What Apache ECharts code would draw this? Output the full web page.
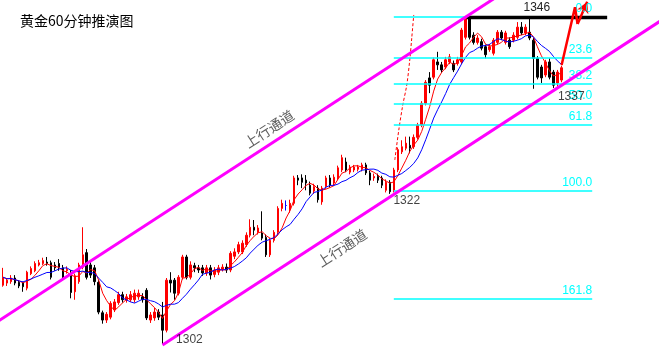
<!DOCTYPE html>
<html><head><meta charset="utf-8">
<script src="https://cdn.jsdelivr.net/npm/echarts@6/dist/echarts.min.js"></script>
<style>html,body{margin:0;padding:0;background:#fff}#c{width:659px;height:349px}</style>
</head><body><div id="c"></div>
<script>
const chartTitle = '黄金60分钟推演图';
const opens = [1309.0,1309.3,1309.5,1310.0,1309.4,1309.3,1308.6,1310.6,1311.0,1311.8,1312.0,1312.2,1312.1,1311.8,1312.0,1311.4,1311.0,1310.8,1308.1,1309.5,
1311.5,1313.5,1311.8,1311.4,1309.4,1305.2,1304.2,1304.6,1305.6,1306.6,1307.7,1307.0,1307.0,1307.0,1307.4,1307.4,1308.3,1304.2,1304.5,1305.3,
1304.9,1302.8,1309.7,1309.7,1307.9,1310.1,1312.9,1310.1,1311.7,1311.4,1311.4,1310.7,1311.4,1310.5,1310.8,1311.2,1311.5,1311.1,1313.0,1313.6,
1313.6,1314.6,1315.9,1317.0,1316.3,1316.2,1315.6,1313.2,1315.2,1316.3,1319.6,1320.0,1319.4,1320.3,1323.8,1323.8,1323.5,1322.8,1322.0,1322.4,
1320.5,1322.6,1323.8,1323.1,1323.8,1324.9,1326.0,1324.6,1324.9,1325.0,1325.0,1325.6,1324.5,1323.8,1324.0,1323.8,1322.1,1323.2,1322.1,1324.9,
1327.4,1327.9,1328.3,1328.1,1329.4,1331.1,1334.1,1337.6,1337.7,1339.8,1339.4,1339.1,1339.8,1339.6,1339.6,1339.8,1343.2,1345.9,1343.5,1342.5,
1342.6,1341.9,1341.5,1341.0,1342.5,1343.9,1342.5,1342.8,1342.8,1343.2,1344.6,1343.8,1343.9,1342.8,1340.3,1339.1,1338.0,1339.8,1338.4,1336.9,1337.3];
const closes = [1310.1,1309.7,1310.0,1309.3,1308.9,1308.8,1310.8,1311.3,1312.0,1312.1,1312.4,1312.0,1310.1,1311.4,1311.5,1310.0,1311.2,1308.0,1310.3,1311.8,
1313.2,1310.1,1310.4,1309.5,1305.3,1304.2,1305.0,1306.5,1306.7,1307.7,1307.0,1307.4,1307.7,1307.9,1307.9,1307.0,1304.5,1304.9,1305.3,1304.6,
1302.8,1309.7,1309.3,1307.9,1310.1,1312.9,1310.1,1311.8,1311.4,1311.1,1310.7,1311.4,1310.4,1311.1,1311.4,1311.5,1311.1,1313.4,1313.6,1314.6,
1314.8,1315.9,1317.0,1316.6,1316.9,1315.5,1313.2,1315.2,1316.3,1319.6,1320.3,1320.0,1320.3,1323.8,1323.5,1323.2,1323.1,1321.7,1322.6,1320.8,
1322.4,1323.8,1322.8,1323.9,1325.2,1326.6,1324.9,1325.3,1325.3,1325.3,1325.6,1324.5,1323.5,1324.0,1323.5,1322.8,1323.2,1321.9,1324.9,1327.7,
1328.1,1328.6,1327.9,1329.4,1331.1,1334.1,1337.0,1336.6,1340.1,1339.4,1338.7,1340.1,1340.5,1338.7,1340.1,1344.2,1345.9,1343.2,1342.5,1343.1,
1341.7,1340.8,1341.9,1342.8,1343.9,1343.1,1343.8,1341.9,1343.5,1344.6,1343.8,1344.6,1343.1,1340.3,1337.7,1337.6,1339.8,1337.7,1336.6,1338.4,1339.0];
const lows = [1308.8,1308.9,1309.2,1309.0,1308.6,1308.1,1308.3,1310.4,1310.8,1311.6,1311.8,1311.7,1309.8,1311.0,1311.0,1309.7,1310.6,1307.2,1307.0,1309.2,
1311.2,1309.8,1310.0,1309.0,1305.0,1303.7,1303.8,1304.3,1305.3,1306.3,1306.6,1306.6,1306.7,1306.6,1307.0,1306.6,1304.2,1303.8,1304.1,1304.2,
1300.9,1302.5,1308.0,1307.0,1307.6,1309.8,1309.8,1309.8,1310.8,1310.7,1310.3,1310.3,1309.8,1310.1,1310.4,1310.9,1310.7,1310.8,1312.6,1313.3,
1313.3,1314.3,1315.6,1315.9,1316.0,1315.2,1312.9,1312.9,1314.9,1316.0,1319.2,1319.3,1319.0,1320.0,1322.8,1322.4,1322.1,1321.4,1321.6,1320.4,
1320.1,1322.3,1322.5,1322.8,1323.5,1324.6,1324.6,1324.3,1324.6,1324.7,1324.7,1324.2,1322.8,1323.4,1323.1,1322.4,1321.8,1321.6,1321.8,1324.6,
1327.1,1327.6,1327.2,1327.8,1329.1,1330.8,1333.8,1335.5,1337.4,1338.7,1338.3,1338.8,1339.5,1338.4,1339.3,1339.5,1342.9,1342.9,1342.2,1342.2,
1341.4,1340.3,1341.2,1340.7,1342.2,1342.8,1342.2,1341.6,1342.5,1342.9,1343.5,1343.5,1342.8,1336.1,1337.4,1336.9,1337.7,1337.4,1336.2,1336.4,1337.0];
const highs = [1311.4,1310.0,1310.4,1310.4,1309.7,1309.5,1311.0,1311.6,1312.3,1312.5,1312.8,1312.9,1312.4,1312.2,1312.6,1311.8,1311.6,1311.1,1310.6,1312.1,
1317.0,1314.0,1312.2,1311.8,1309.7,1305.5,1305.3,1306.8,1307.1,1308.1,1308.1,1307.8,1308.2,1308.4,1308.4,1307.9,1308.6,1305.3,1305.9,1305.7,
1306.7,1310.0,1310.8,1310.0,1310.4,1313.2,1313.2,1312.3,1312.1,1311.8,1311.8,1311.8,1311.8,1311.5,1311.8,1311.9,1312.0,1313.7,1314.1,1315.0,
1315.2,1316.3,1318.1,1318.0,1317.3,1319.2,1316.0,1315.5,1316.6,1319.9,1320.8,1320.7,1320.8,1324.1,1324.2,1324.3,1324.2,1323.3,1323.0,1322.8,
1322.7,1324.1,1324.2,1324.3,1325.5,1327.0,1326.6,1325.6,1325.6,1325.6,1325.9,1325.9,1324.8,1324.4,1324.4,1324.1,1323.6,1323.5,1325.2,1328.0,
1329.0,1329.5,1329.5,1329.8,1331.4,1334.4,1337.3,1338.4,1340.4,1341.2,1339.8,1340.5,1340.9,1340.0,1340.5,1344.5,1346.0,1346.0,1343.9,1343.5,
1343.0,1342.2,1342.3,1343.1,1344.2,1344.2,1344.1,1343.2,1343.9,1345.3,1345.3,1345.0,1345.9,1343.1,1340.6,1339.4,1340.1,1340.3,1338.7,1338.7,1339.3];

const swingHigh = 1346, swingLow = 1322;
const fibRatios = [0, 23.6, 38.2, 50, 61.8, 100, 161.8];
const fibLabels = ['0.0', '23.6', '38.2', '50.0', '61.8', '100.0', '161.8'];
const fibSpan = [98, 147.75];          // bar index range of the fib lines
const topLineSpan = [116.25, 151.5];   // bar index range of the 1346 line
const upperChannel = [[-2, 1303.76], [130, 1351.0]];
const lowerChannel = [[40, 1300.76], [165, 1345.51]];
const projection = [[98.25, 1326.28], [99.25, 1330.41], [100.25, 1333.86], [101.25, 1336.62], [102, 1340.07], [102.5, 1343.1], [103, 1346.28]];
const arrowPath = [[140.08, 1339.38], [143.43, 1347.34], [144.08, 1345.03]];
const arrowTip = [146.5, 1348.1];
const priceNotes = [['1302', 46.75, 1301.45], ['1322', 101.25, 1320.62], ['1337', 142.5, 1334.97]];
const channelNotes = [['上行通道', 66.75, 1330.55], ['上行通道', 85, 1314.14]];

const slotCount = 165;
const slots = Array.from({length: slotCount}, (_, i) => String(i));
const candles = opens.map((o, i) => [o, closes[i], lows[i], highs[i]]);
function ma(n) {
  return closes.map((_, i) => {
    const s = Math.max(0, i - n + 1);
    const w = closes.slice(s, i + 1);
    return +(w.reduce((a, b) => a + b, 0) / w.length).toFixed(3);
  });
}
const fibPrice = r => swingHigh - r / 100 * (swingHigh - swingLow);

const chart = echarts.init(document.getElementById('c'), null, {renderer: 'canvas'});
chart.setOption({
  animation: false,
  backgroundColor: '#fff',
  title: {text: chartTitle, left: 20, top: 14, padding: 0,
    textStyle: {fontSize: 14, fontWeight: 'normal', color: '#000', fontFamily: 'Noto Sans CJK SC'}},
  grid: {left: 1, top: 0, width: 660, height: 349},
  xAxis: [
    {type: 'category', data: slots, boundaryGap: true, show: false},
    {type: 'value', min: -0.5, max: slotCount - 0.5, show: false, splitLine: {show: false}}
  ],
  yAxis: {type: 'value', min: 1300.207, max: 1348.345, show: false, splitLine: {show: false}},
  series: [
    {
      type: 'line', xAxisIndex: 1, data: [], z: 1, silent: true,
      markLine: {
        silent: true, symbol: 'none', animation: false,
        lineStyle: {color: '#00ffff', width: 1.5, type: 'solid'},
        label: {show: true, position: 'insideEndTop', color: '#00ffff', fontSize: 12,
          fontFamily: 'Liberation Sans', distance: [0, 2], formatter: p => p.name},
        data: fibRatios.map((r, k) => [
          {name: fibLabels[k], coord: [fibSpan[0], fibPrice(r)]},
          {coord: [fibSpan[1], fibPrice(r)]}
        ])
      }
    },
    {
      type: 'candlestick', xAxisIndex: 0, data: candles, barWidth: 2, z: 3, silent: true,
      itemStyle: {color: '#ff0000', color0: '#000000', borderColor: '#ff0000', borderColor0: '#000000',
        borderColorDoji: '#0000ff', borderWidth: 1}
    },
    {type: 'line', xAxisIndex: 0, data: ma(5), showSymbol: false, z: 4, silent: true,
      lineStyle: {color: '#ff0000', width: 1}},
    {type: 'line', xAxisIndex: 0, data: ma(10), showSymbol: false, z: 4, silent: true,
      lineStyle: {color: '#0000ff', width: 1}},
    {type: 'line', xAxisIndex: 1, data: projection, showSymbol: false, smooth: 0.3, z: 4, silent: true,
      lineStyle: {color: '#ff0000', width: 1, type: [3, 2]}},
    {
      type: 'line', xAxisIndex: 1, data: [], z: 5, silent: true,
      markLine: {
        silent: true, symbol: 'none', animation: false,
        lineStyle: {color: '#000', width: 3.3, type: 'solid'},
        label: {show: true, position: 'insideMiddleTop', color: '#222', fontSize: 12,
          fontFamily: 'Liberation Sans', distance: 3, formatter: p => p.name},
        data: [[{name: String(swingHigh), coord: [topLineSpan[0], swingHigh]}, {coord: [topLineSpan[1], swingHigh]}]]
      }
    },
    {type: 'line', xAxisIndex: 1, data: upperChannel, showSymbol: false, z: 6, silent: true,
      lineStyle: {color: '#ff00ff', width: 3}},
    {type: 'line', xAxisIndex: 1, data: lowerChannel, showSymbol: false, z: 6, silent: true,
      lineStyle: {color: '#ff00ff', width: 3}},
    {
      type: 'line', xAxisIndex: 1, data: arrowPath, showSymbol: false, z: 7, silent: true,
      lineStyle: {color: '#ff0000', width: 2.5},
      markLine: {
        silent: true, symbol: ['none', 'arrow'], symbolSize: [9, 11], animation: false,
        lineStyle: {color: '#ff0000', width: 2.5, type: 'solid'}, label: {show: false},
        data: [[{coord: arrowPath[arrowPath.length - 1]}, {coord: arrowTip}]]
      }
    },
    {
      type: 'scatter', xAxisIndex: 1, symbolSize: 1, z: 8, silent: true,
      itemStyle: {color: 'rgba(0,0,0,0)'},
      data: priceNotes.map(n => ({name: n[0], value: [n[1], n[2]]})),
      label: {show: true, position: 'inside', formatter: p => p.name, color: '#111', fontSize: 12,
        fontFamily: 'Liberation Sans'}
    },
    {
      type: 'scatter', xAxisIndex: 1, symbolSize: 1, z: 8, silent: true,
      itemStyle: {color: 'rgba(0,0,0,0)'},
      data: channelNotes.map(n => ({name: n[0], value: [n[1], n[2]]})),
      label: {show: true, position: 'inside', formatter: p => p.name, color: '#333', fontSize: 14,
        rotate: 33, fontFamily: 'Noto Sans CJK SC'}
    }
  ]
});
</script>
</body></html>
